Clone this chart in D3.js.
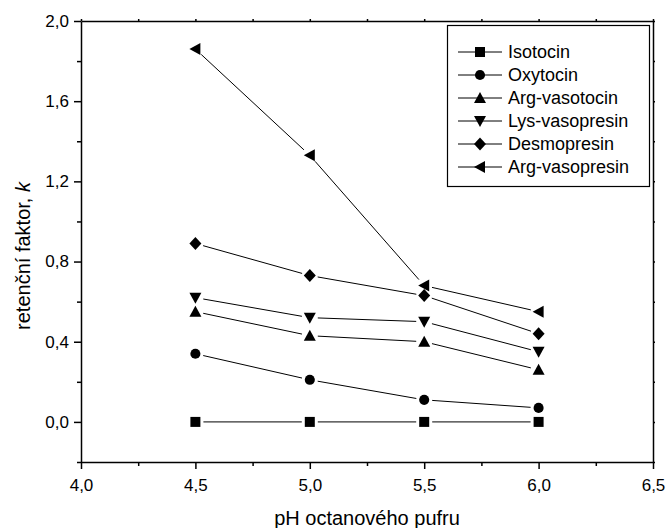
<!DOCTYPE html>
<html>
<head>
<meta charset="utf-8">
<script src="https://cdn.jsdelivr.net/npm/d3@7"></script>
<style>
  body { margin: 0; background: #fff; }
  svg { display: block; font-family: "Liberation Sans", Arial, sans-serif; }
  .axis path, .axis line { stroke: #000; stroke-width: 1.5; }
  .axis text { font-size: 17px; fill: #000; }
  .link { fill: none; stroke: #000; stroke-width: 1; }
</style>
</head>
<body>
<div id="chart"></div>
<script>
// pH values of the buffer
var phValues = [4.5, 5.0, 5.5, 6.0];

var seriesNames = ["Isotocin", "Oxytocin", "Arg-vasotocin", "Lys-vasopresin", "Desmopresin", "Arg-vasopresin"];
var seriesSymbols = ["square", "circle", "up", "down", "diamond", "left"];

var isotocin = [0.0, 0.0, 0.0, 0.0];
var oxytocin = [0.34, 0.21, 0.11, 0.07];
var argVasotocin = [0.55, 0.43, 0.40, 0.26];
var lysVasopresin = [0.62, 0.52, 0.50, 0.35];
var desmopresin = [0.89, 0.73, 0.63, 0.44];
var argVasopresin = [1.86, 1.33, 0.68, 0.55];

var seriesValues = [isotocin, oxytocin, argVasotocin, lysVasopresin, desmopresin, argVasopresin];

var xMajor = [4.0, 4.5, 5.0, 5.5, 6.0, 6.5];
var xMinor = [4.25, 4.75, 5.25, 5.75, 6.25];
var yMajor = [0.0, 0.4, 0.8, 1.2, 1.6, 2.0];
var yMinor = [-0.2, 0.2, 0.6, 1.0, 1.4, 1.8];

var width = 667, height = 528;
var margin = { top: 21, right: 14, bottom: 66, left: 81 };

var svg = d3.select("#chart").append("svg")
  .attr("width", width)
  .attr("height", height);

var x = d3.scaleLinear().domain([4.0, 6.5]).range([margin.left, width - margin.right]);
var y = d3.scaleLinear().domain([-0.2, 2.0]).range([height - margin.bottom, margin.top]);

function comma(d) { return d3.format(".1f")(d).replace(".", ","); }

// minor ticks first, majors on top
svg.append("g").attr("class", "axis")
  .attr("transform", "translate(0," + y(-0.2) + ")")
  .call(d3.axisBottom(x).tickValues(xMinor).tickSize(4).tickFormat(""))
  .select(".domain").remove();
svg.append("g").attr("class", "axis")
  .attr("transform", "translate(" + x(4.0) + ",0)")
  .call(d3.axisLeft(y).tickValues(yMinor).tickSize(4).tickFormat(""))
  .select(".domain").remove();

svg.append("g").attr("class", "axis")
  .attr("transform", "translate(0," + y(-0.2) + ")")
  .call(d3.axisBottom(x).tickValues(xMajor).tickSize(7).tickSizeOuter(0).tickPadding(10).tickFormat(comma));
svg.append("g").attr("class", "axis")
  .attr("transform", "translate(" + x(4.0) + ",0)")
  .call(d3.axisLeft(y).tickValues(yMajor).tickSize(7).tickSizeOuter(0).tickPadding(5).tickFormat(comma));

// top and right frame
svg.append("g").attr("class", "axis")
  .attr("transform", "translate(0," + y(2.0) + ")")
  .call(d3.axisTop(x).tickValues(xMajor.concat(xMinor)).tickSize(2).tickSizeOuter(0).tickFormat(""));
svg.append("g").attr("class", "axis")
  .attr("transform", "translate(" + x(6.5) + ",0)")
  .call(d3.axisRight(y).tickValues(yMajor.concat(yMinor)).tickSize(2).tickSizeOuter(0).tickFormat(""));

// axis titles
svg.append("text")
  .attr("x", (x(4.0) + x(6.5)) / 2)
  .attr("y", 525)
  .attr("text-anchor", "middle")
  .style("font-size", "20px")
  .text("pH octanového pufru");

var ylab = svg.append("text")
  .attr("transform", "translate(30," + 256 + ") rotate(-90)")
  .attr("text-anchor", "middle")
  .style("font-size", "20px");
ylab.append("tspan").text("retenční faktor, ");
ylab.append("tspan").style("font-style", "italic").text("k");

// marker shapes
function symbolPath(type) {
  switch (type) {
    case "square": return "M-5,-5H5V5H-5Z";
    case "circle": return d3.symbol(d3.symbolCircle, 80)();
    case "up": return "M0,-6L6,5H-6Z";
    case "down": return "M0,6L6,-5H-6Z";
    case "diamond": return "M0,-6.5L6,0L0,6.5L-6,0Z";
    case "left": return "M-6,0L5,-6V6Z";
  }
}

// lines with small gaps around the markers
var gap = 8;
seriesValues.forEach(function (vals, i) {
  var pts = phValues.map(function (p, j) { return [x(p), y(vals[j])]; });
  var g = svg.append("g");
  for (var j = 0; j < pts.length - 1; j++) {
    var a = pts[j], b = pts[j + 1];
    var dx = b[0] - a[0], dy = b[1] - a[1];
    var len = Math.sqrt(dx * dx + dy * dy);
    var ux = dx / len, uy = dy / len;
    g.append("path")
      .attr("class", "link")
      .attr("d", "M" + (a[0] + ux * gap) + "," + (a[1] + uy * gap) + "L" + (b[0] - ux * gap) + "," + (b[1] - uy * gap));
  }
  g.selectAll(".pt")
    .data(pts)
    .enter().append("path")
    .attr("class", "pt")
    .attr("transform", function (d) { return "translate(" + d[0] + "," + d[1] + ")"; })
    .attr("d", symbolPath(seriesSymbols[i]))
    .attr("fill", "#000");
});

// legend
var legend = svg.append("g");
legend.append("rect")
  .attr("x", 447.5).attr("y", 25.5)
  .attr("width", 202).attr("height", 161)
  .attr("fill", "#fff").attr("stroke", "#000").attr("stroke-width", 1.2);

var rows = legend.selectAll(".row")
  .data(seriesNames)
  .enter().append("g")
  .attr("transform", function (d, i) { return "translate(0," + (52 + i * 23) + ")"; });
rows.append("line")
  .attr("x1", 458).attr("x2", 502)
  .attr("stroke", "#000").attr("stroke-width", 1);
rows.append("path")
  .attr("transform", "translate(480,0)")
  .attr("d", function (d, i) { return symbolPath(seriesSymbols[i]); })
  .attr("fill", "#000");
rows.append("text")
  .attr("x", 508).attr("dy", "0.35em")
  .style("font-size", "18px")
  .text(function (d) { return d; });
</script>
</body>
</html>
